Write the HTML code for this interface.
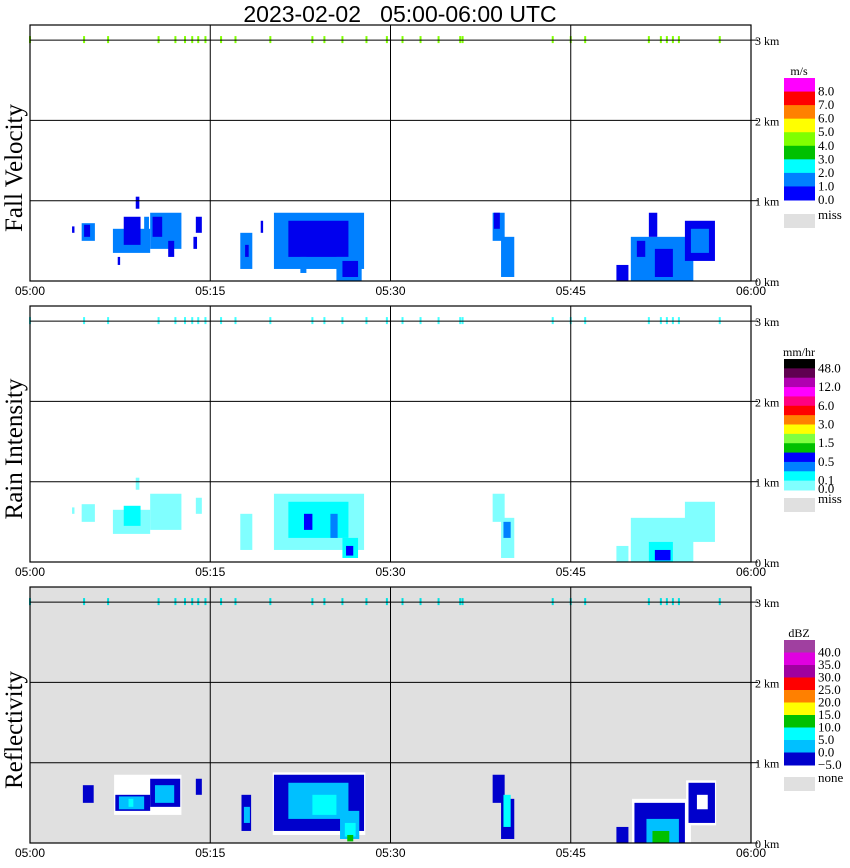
<!DOCTYPE html>
<html><head><meta charset="utf-8"><style>
body{margin:0;background:#fff;}
svg{display:block;}
</style></head><body>
<svg id="chart" width="850" height="868" xmlns="http://www.w3.org/2000/svg" font-family="Liberation Serif, serif"></svg>
<script>
// ---------- data ----------
const timeTicks = ["05:00","05:15","05:30","05:45","06:00"];
const heightTicks = ["0 km","1 km","2 km","3 km"];
const surfaceMarks = [0,4.5,6.5,10.7,12.1,12.9,13.5,14.0,14.6,15.9,17.1,20.0,23.5,24.5,26,28,29.7,31,32.5,34,35.8,36,43.5,45,46.2,51.5,52.5,53,53.5,54,57.4];
// blobs: [t0(min), t1(min), h0(km), h1(km), colorIndex]
const fallBlobs = [
 [4.3,5.4,0.5,0.72,1],[4.5,5.0,0.55,0.7,0],[3.5,3.7,0.6,0.68,0],
 [6.9,10.0,0.35,0.65,1],[10.0,12.6,0.4,0.85,1],[7.8,9.2,0.45,0.8,0],[10.2,11.0,0.55,0.8,0],[9.5,9.9,0.55,0.8,1],
 [13.8,14.3,0.6,0.8,0],[11.5,12.0,0.3,0.5,0],[13.6,13.9,0.4,0.55,0],[8.8,9.1,0.9,1.05,0],[7.3,7.5,0.2,0.3,0],
 [17.5,18.5,0.15,0.6,1],[17.9,18.2,0.3,0.45,0],[19.2,19.4,0.6,0.75,0],
 [20.3,27.8,0.15,0.85,1],[21.5,26.5,0.3,0.75,0],[25.5,27.6,0.0,0.3,1],[26,27.3,0.05,0.25,0],[22.5,23,0.1,0.3,1],
 [38.5,39.5,0.5,0.85,1],[39.2,40.3,0.05,0.55,1],[38.6,39.1,0.65,0.85,0],
 [48.8,49.8,0.0,0.2,0],[50,55.2,0.0,0.55,1],[52,53.5,0.05,0.4,0],[50.5,51.2,0.3,0.5,0],
 [54.5,57,0.25,0.75,0],[55.0,56.5,0.35,0.65,1],[51.5,52.2,0.55,0.85,0]
];
const rainBlobs = [
 [4.3,5.4,0.5,0.72,0],[3.5,3.7,0.6,0.68,0],
 [6.9,10.0,0.35,0.65,0],[10.0,12.6,0.4,0.85,0],[7.8,9.2,0.45,0.7,1],[13.8,14.3,0.6,0.8,0],[8.8,9.1,0.9,1.05,0],
 [17.5,18.5,0.15,0.6,0],
 [20.3,27.8,0.15,0.85,0],[21.5,26.5,0.3,0.75,1],[22.8,23.5,0.4,0.6,3],[25.0,25.6,0.3,0.6,2],[26,27.3,0.05,0.3,1],[26.3,26.9,0.08,0.2,3],
 [38.5,39.5,0.5,0.85,0],[39.2,40.3,0.05,0.55,0],[39.4,40.0,0.3,0.5,2],
 [48.8,49.8,0.0,0.2,0],[50,55.2,0.0,0.55,0],[51.5,53.5,0.0,0.25,1],[52,53.3,0.02,0.15,3],
 [54.5,57,0.25,0.75,0]
];
const reflBlobs = [
 [4.4,5.3,0.5,0.72,0],[4.6,5.1,0.55,0.65,0],
 [7.0,12.6,0.35,0.85,4],[7.1,10.0,0.4,0.6,0],[10.0,12.5,0.45,0.8,0],[7.4,9.5,0.42,0.58,1],[10.4,12.0,0.5,0.72,1],[8.2,8.6,0.45,0.55,2],
 [13.8,14.3,0.6,0.8,0],
 [17.6,18.4,0.15,0.6,0],[17.8,18.3,0.25,0.45,1],
 [20.2,27.9,0.1,0.88,4],[20.3,27.8,0.15,0.85,0],[21.5,26.5,0.3,0.75,1],[23.5,25.5,0.35,0.6,2],[25.8,27.4,0.05,0.4,1],[26.2,27.1,0.08,0.25,2],[26.4,26.9,0.02,0.1,3],
 [38.5,39.5,0.5,0.85,0],[39.2,40.3,0.05,0.55,0],[39.4,40.0,0.2,0.6,2],
 [48.8,49.8,0.0,0.2,0],[50.1,55.0,0.0,0.55,4],[50.3,54.5,0.0,0.5,0],[51.3,54.0,0.0,0.3,1],[51.8,53.2,0.0,0.15,3],
 [54.6,57.1,0.22,0.78,4],[54.8,57,0.25,0.75,0],[55.5,56.4,0.42,0.6,4]
];
const fallColors = ["#0000ee","#0080ff","#00ffff"];
const rainColors = ["#80ffff","#00ffff","#0080ff","#0000ff"];
const reflColors = ["#0000cc","#00c0ff","#00ffff","#00c000","#ffffff"];
const legendFall = {unit:"m/s",colors:["#ff00ff","#ff0000","#ff8000","#ffff00","#80ff00","#00c000","#00ffff","#0080ff","#0000ff"],labels:["8.0","7.0","6.0","5.0","4.0","3.0","2.0","1.0","0.0"],miss:"miss"};
const legendRain = {unit:"mm/hr",colors:["#000000","#600050","#b000b0","#ff00ff","#ff0080","#ff0000","#ff8000","#ffff00","#80ff40","#00c000","#0000ff","#0080ff","#00ffff","#80ffff"],labels:["48.0","","12.0","","6.0","","3.0","","1.5","","0.5","","0.1",""],miss:"miss"};
const legendRefl = {unit:"dBZ",colors:["#a040a0","#e000e0","#a000a0","#ff0000","#ff8000","#ffff00","#00c000","#00ffff","#00c0ff","#0000cc"],labels:["40.0","35.0","30.0","25.0","20.0","15.0","10.0","5.0","0.0","\u22125.0"],miss:"none"};

// ---------- drawing ----------
const svg = document.getElementById('chart');
const NS = "http://www.w3.org/2000/svg";
function mk(tag, attrs, parent){const e=document.createElementNS(NS,tag);for(const k in attrs)e.setAttribute(k,attrs[k]);(parent||svg).appendChild(e);return e;}
const X0=30, X1=751;
function xs(t){return X0+t/60*(X1-X0);}
const panels=[
 {top:25,base:281,blobs:fallBlobs,colors:fallColors,bg:"#ffffff",leg:legendFall,legTop:78,legBot:200,missY:214,markColor:"#80ff00",title:"Fall Velocity"},
 {top:306,base:562,blobs:rainBlobs,colors:rainColors,bg:"#ffffff",leg:legendRain,legTop:359,legBot:490,missY:498,markColor:"#40ffff",title:"Rain Intensity"},
 {top:587,base:843,blobs:reflBlobs,colors:reflColors,bg:"#e0e0e0",leg:legendRefl,legTop:640,legBot:765,missY:777,markColor:"#00e0e0",title:"Reflectivity"}
];
const KM=80.3;

let title=mk('text',{x:400,y:22,'text-anchor':'middle','font-size':'23','font-family':'Liberation Sans, sans-serif','xml:space':'preserve',style:'white-space:pre'});
title.textContent="2023-02-02   05:00-06:00 UTC";



panels.forEach((p,pi)=>{
  const g=mk('g',{});
  
  
  function ys(h){return p.base-h*KM;}
  mk('rect',{x:X0,y:p.top,width:X1-X0,height:p.base-p.top,fill:p.bg},g);
  p.blobs.forEach(b=>{
    const r=mk('rect',{x:xs(b[0]),y:ys(b[3]),width:xs(b[1])-xs(b[0]),height:ys(b[2])-ys(b[3]),fill:p.colors[b[4]]},g);
    
    
  });
  surfaceMarks.forEach(t=>{
    const m=mk('rect',{x:xs(t)-1,y:ys(3)-4,width:2,height:7,fill:p.markColor},g);
    
    
  });
  for(let h=1;h<=3;h++) mk('line',{x1:X0,x2:X1,y1:ys(h),y2:ys(h),stroke:'#000','stroke-width':1},g);
  for(let i=1;i<4;i++) mk('line',{x1:xs(i*15),x2:xs(i*15),y1:p.top,y2:p.base,stroke:'#000','stroke-width':1},g);
  mk('rect',{x:X0,y:p.top,width:X1-X0,height:p.base-p.top,fill:'none',stroke:'#000','stroke-width':1.2},g);
  heightTicks.forEach((lab,h)=>{
    mk('line',{x1:X1,x2:X1+7,y1:ys(h),y2:ys(h),stroke:'#000'},g);
    const t=mk('text',{x:X1+4,y:ys(h)+5,'font-size':'12'},g);
    t.textContent=lab;
    
    
  });
  timeTicks.forEach((lab,i)=>{
    const t=mk('text',{x:xs(i*15),y:p.base+14,'text-anchor':'middle','font-size':'12','font-family':'Liberation Sans, sans-serif'},g);
    t.textContent=lab;
    
    
  });
  const cy=(p.top+p.base)/2+15;
  const yt=mk('text',{x:0,y:0,transform:`translate(22,${cy}) rotate(-90)`,'text-anchor':'middle','font-size':'25'},g);
  yt.textContent=p.title;
  
  
  const lg=mk('g',{},g);
  
  
  const n=p.leg.colors.length, bh=(p.legBot-p.legTop)/n;
  const u=mk('text',{x:799,y:p.legTop-3,'text-anchor':'middle','font-size':'12'},lg);
  u.textContent=p.leg.unit;
  p.leg.colors.forEach((c,i)=>{
    mk('rect',{x:784,y:p.legTop+i*bh,width:31,height:bh+0.5,fill:c},lg);
    if(p.leg.labels[i]!==""){
      const t=mk('text',{x:818,y:p.legTop+(i+1)*bh+4,'font-size':'13'},lg);
      t.textContent=p.leg.labels[i];
      
      
    }
  });
  if(pi===1){const t=mk('text',{x:818,y:p.legBot+3,'font-size':'13'},lg);t.textContent="0.0";}
  mk('rect',{x:784,y:p.missY,width:31,height:14,fill:'#e0e0e0'},lg);
  const ms=mk('text',{x:818,y:p.missY+5,'font-size':'13'},lg);
  ms.textContent=p.leg.miss;
  
  
});
</script>
</body></html>
